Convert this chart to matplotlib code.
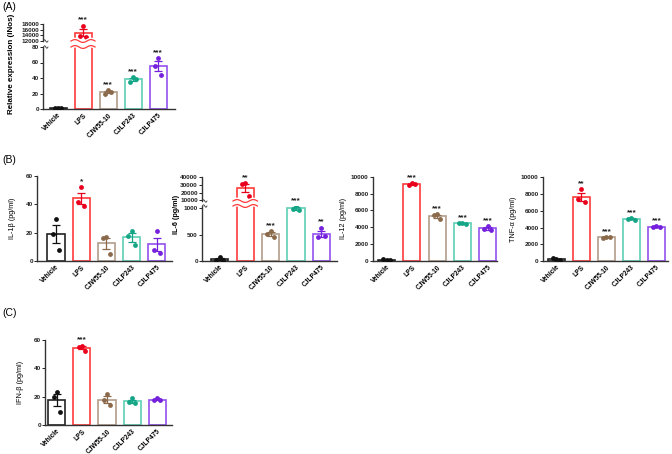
"""Cytokine / iNos expression panels (A), (B), (C)."""
import matplotlib.pyplot as plt
import numpy as np

W, H = 672, 454

plt.rcParams["font.family"] = ["Liberation Sans", "DejaVu Sans"]
plt.rcParams["font.weight"] = "bold"

groups = ["Vehicle", "LPS", "CJW55-10", "CJLP243", "CJLP475"]
edge_colors = ["#222222", "#ff3b3b", "#b29c8a", "#5ccfb4", "#9350ee"]
dot_colors = ["#111111", "#e8001c", "#8a6a4a", "#14a586", "#7420dc"]
jitter = [0.0, -0.13, 0.13]

# three replicates per group
inos = [[1.0, 1.3, 0.8], [17400, 13800, 13500], [24, 19, 22], [41, 35, 39], [66, 56, 44]]
inos_stars = ["", "***", "***", "***", "***"]
il1b = [[30, 19, 8], [52, 42, 39], [17, 16, 5], [21, 18, 11], [21, 8, 6]]
il1b_stars = ["", "*", "", "", ""]
il6 = [[75, 25, 15], [32000, 31500, 15300], [570, 520, 450], [1040, 985, 960], [630, 450, 470]]
il6_stars = ["", "**", "***", "***", "**"]
il12 = [[150, 260, 110], [9250, 9000, 9100], [5550, 5400, 4950], [4500, 4450, 4400], [4150, 3800, 3650]]
il12_stars = ["", "***", "***", "***", "***"]
tnf = [[200, 350, 150], [8600, 7400, 7000], [2850, 2800, 2860], [5150, 5050, 4950], [4200, 4050, 4020]]
tnf_stars = ["", "**", "***", "***", "***"]
ifnb = [[23, 20, 9], [56, 55, 52.5], [22, 18, 14], [19, 16, 15.5], [19, 17.5, 17.5]]
ifnb_stars = ["", "***", "", "", ""]

fig = plt.figure(figsize=(W / 100, H / 100), dpi=100)


def px_axes(left, top, right, bottom):
    return fig.add_axes([left / W, 1 - bottom / H, (right - left) / W, (bottom - top) / H])


def style(ax, xlim, ylim, yticks, xlabels=True, bottom=True):
    ax.set_xlim(*xlim)
    ax.set_ylim(*ylim)
    ax.set_yticks(yticks)
    for s in ["top", "right"]:
        ax.spines[s].set_visible(False)
    ax.spines["bottom"].set_visible(bottom)
    for s in ["left", "bottom"]:
        ax.spines[s].set_color("#333333")
        ax.spines[s].set_linewidth(1.0)
    ax.tick_params(axis="y", labelsize=4.6, length=2, width=0.7, pad=1, colors="#222222")
    ax.tick_params(axis="x", length=0, pad=2)
    ax.set_xticks(range(len(groups)))
    if xlabels:
        ax.set_xticklabels(groups, rotation=45, ha="right", rotation_mode="anchor", fontsize=4.8)
    else:
        ax.set_xticklabels([])
        ax.tick_params(axis="x", bottom=False)


def draw_groups(ax, data, stars, show=None):
    for i, pts in enumerate(data):
        pts = np.array(pts, float)
        m = pts.mean()
        s = pts.std(ddof=1) / np.sqrt(len(pts))
        ax.bar(i, m, width=0.68, facecolor="white", edgecolor=edge_colors[i], linewidth=1.2, zorder=2)
        ax.errorbar(i, m, yerr=s, color=dot_colors[i], capsize=2.6, elinewidth=0.9,
                    capthick=0.9, zorder=3)
        ax.scatter(i + np.array(jitter), pts, s=12, color=dot_colors[i], zorder=4, linewidths=0)
        if stars[i] and (show is None or i in show):
            top = max(m + s, pts.max())
            ax.annotate(stars[i], (i, top), xytext=(0, 1.5), textcoords="offset points",
                        ha="center", va="bottom", fontsize=6, color="#222222",
                        annotation_clip=False)


def wave(ax, x, y_frac, color, half=0.48, amp=1.4):
    ax_h = ax.get_window_extent().height
    xs = np.linspace(x - half, x + half, 60)
    ys = y_frac + amp / ax_h * np.sin((xs - x + half) / (2 * half) * 2 * np.pi * 1.5)
    tr = ax.get_xaxis_transform()
    ax.plot(xs, ys, color="white", lw=2.8, transform=tr, clip_on=False, zorder=5)
    ax.plot(xs, ys, color=color, lw=0.9, transform=tr, clip_on=False, zorder=6)


def break_mark(ax, y_frac):
    # small squiggle just right of the y axis spine
    bb = ax.get_window_extent()
    dx = np.linspace(0.5, 5.0, 20)
    dy = 1.2 * np.sin((dx - 0.5) / 4.5 * 2 * np.pi)
    xs = dx / bb.width
    ys = y_frac + dy / bb.height
    ax.plot(xs, ys, color="#333333", lw=0.6, transform=ax.transAxes, clip_on=False, zorder=6)


# ---- (A) iNos, broken axis ----
xl_a = (-0.6, 4.68)
ax_a_top = px_axes(43, 24, 175, 41)
ax_a = px_axes(43, 47, 175, 109)
draw_groups(ax_a_top, inos, inos_stars, show=[1])
draw_groups(ax_a, inos, inos_stars, show=[2, 3, 4])
style(ax_a_top, xl_a, (12000, 18000), [12000, 14000, 16000, 18000], xlabels=False, bottom=False)
style(ax_a, xl_a, (0, 80), [0, 20, 40, 60, 80])
wave(ax_a_top, 1, 0.0, edge_colors[1])
wave(ax_a, 1, 1.0, edge_colors[1])
break_mark(ax_a, 1.0)
break_mark(ax_a_top, 0.0)
fig.text(12 / W, 1 - 64 / H, "Relative expression (iNos)", rotation=90, fontsize=5.8,
         ha="center", va="center")

# ---- (B) cytokines ----
ax = px_axes(37, 176, 172, 261)
draw_groups(ax, il1b, il1b_stars)
style(ax, (-0.75, 4.6), (0, 60), [0, 20, 40, 60])
ax.set_ylabel("IL-1\u03b2 (pg/ml)", fontsize=5.2, labelpad=7)

xl_6 = (-0.7, 4.6)
ax6_top = px_axes(202, 177.3, 336.7, 201)
ax6 = px_axes(202, 206, 336.7, 261)
draw_groups(ax6_top, il6, il6_stars, show=[1])
draw_groups(ax6, il6, il6_stars, show=[2, 3, 4])
style(ax6_top, xl_6, (9000, 40000), [10000, 20000, 30000, 40000], xlabels=False, bottom=False)
style(ax6, xl_6, (0, 1040), [0, 500, 1000])
wave(ax6_top, 1, 0.0, edge_colors[1])
wave(ax6, 1, 1.0, edge_colors[1])
break_mark(ax6, 1.0)
break_mark(ax6_top, 0.0)
fig.text(177 / W, 1 - 214 / H, "IL-6 (pg/ml)", rotation=90, fontsize=5.2, ha="center", va="center")

ax = px_axes(372.7, 176.7, 496.7, 261)
draw_groups(ax, il12, il12_stars)
style(ax, (-0.55, 4.36), (0, 10000), [0, 2000, 4000, 6000, 8000, 10000])
ax.set_ylabel("IL-12 (pg/ml)", fontsize=5.2, labelpad=3)

ax = px_axes(542.7, 177.3, 668, 261)
draw_groups(ax, tnf, tnf_stars)
style(ax, (-0.55, 4.46), (0, 10000), [0, 2000, 4000, 6000, 8000, 10000])
ax.set_ylabel("TNF-\u03b1 (pg/ml)", fontsize=5.2, labelpad=3)

# ---- (C) IFN-beta ----
ax = px_axes(45, 340, 172, 425)
draw_groups(ax, ifnb, ifnb_stars)
style(ax, (-0.47, 4.59), (0, 60), [0, 20, 40, 60])
ax.set_ylabel("IFN-\u03b2 (pg/ml)", fontsize=5.2, labelpad=7)

for label, y in [("(A)", 2), ("(B)", 155), ("(C)", 308)]:
    fig.text(2 / W, 1 - y / H, label, fontsize=7.5, fontweight="normal", ha="left", va="top")

fig.savefig("out.png", dpi=100)
